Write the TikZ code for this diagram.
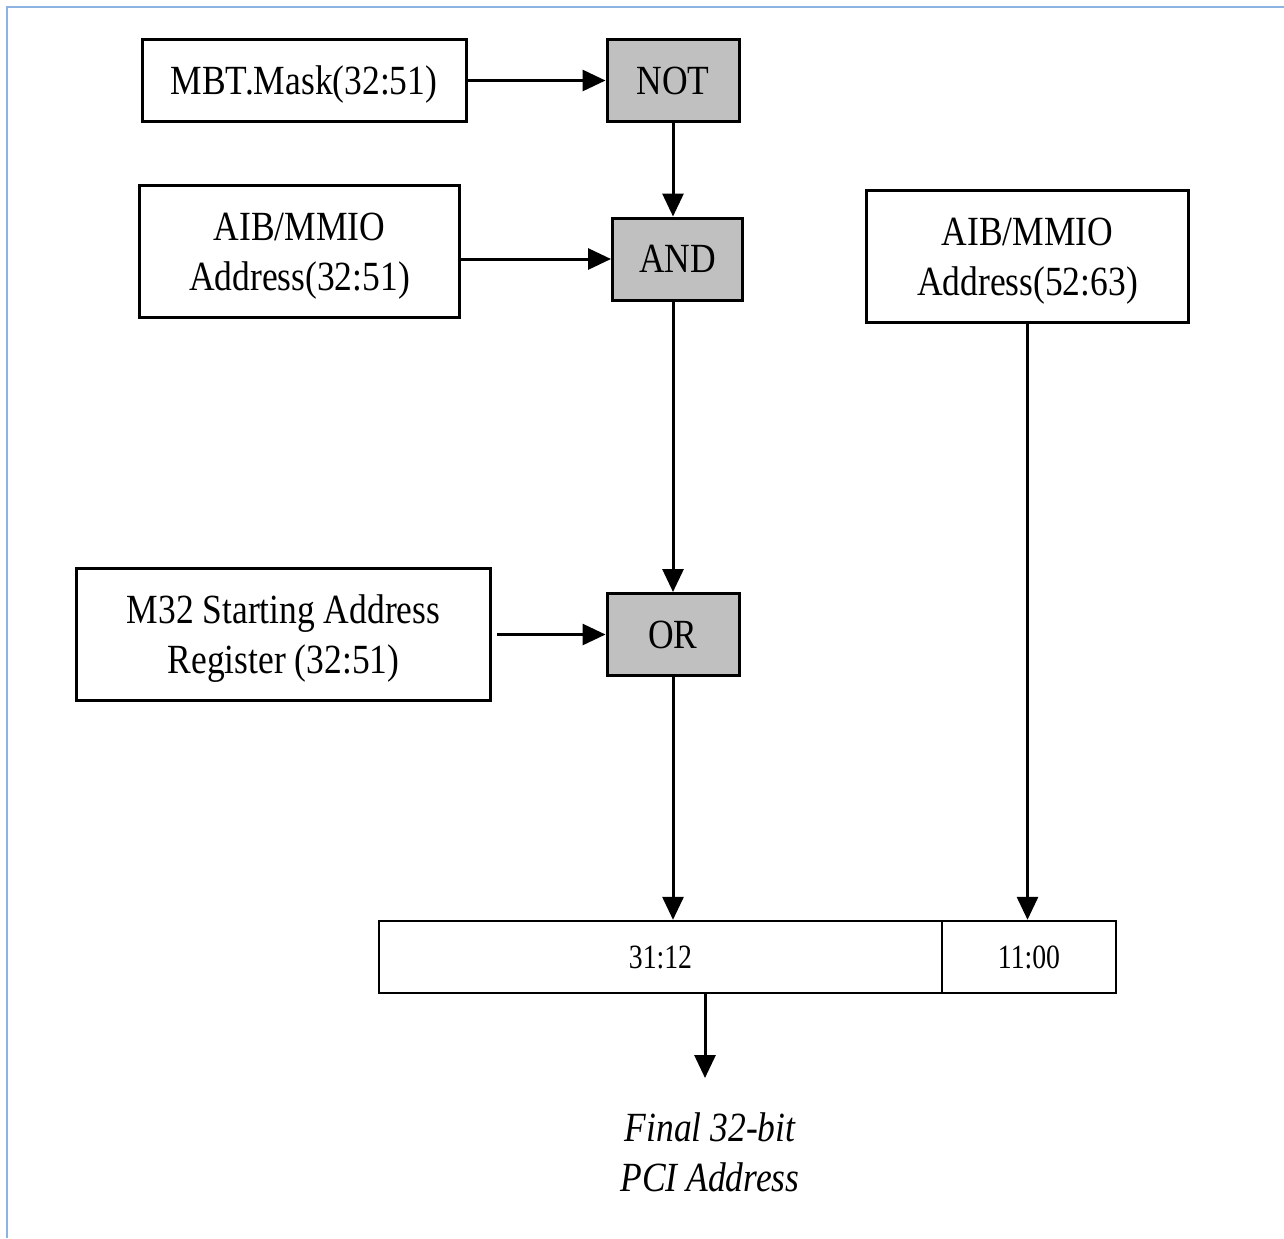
\documentclass[tikz,border=0pt]{standalone}
\usepackage{fontspec}
\setmainfont{Liberation Serif}[FakeStretch=0.855]
\newfontfamily\regfont{Liberation Serif}[FakeStretch=0.815]
\usetikzlibrary{arrows.meta}
\begin{document}
\begin{tikzpicture}[x=0.5pt,y=-0.5pt,
  box/.style={draw=black,line width=1.5pt,fill=white,align=center,inner sep=0pt,
    text depth=0pt,font=\fontsize{20.75}{25}\selectfont},
  gate/.style={box,fill=gatefill},
  regcell/.style={draw=black,line width=1.2pt,inner sep=0pt,minimum height=36pt,
    font=\regfont\fontsize{17}{20}\selectfont},
  flow/.style={line width=1.5pt,-{Triangle[length=11.5pt,width=10.5pt]}},
  frameline/.style={draw=framecol,line width=1pt}]
\definecolor{gatefill}{HTML}{C0C0C0}
\definecolor{framecol}{HTML}{8DB3E2}
\useasboundingbox (0,0) rectangle (1284,1238);
\draw[frameline] (7,1238) -- (7,7) -- (1284,7);

% input boxes
\node[box,minimum width=162pt,minimum height=41pt] (mask) at (304,80.5) {MBT.Mask(32:51)};
\node[box,minimum width=160pt,minimum height=66pt] (aiblo) at (299.5,251.5) {AIB/MMIO\\Address(32:51)};
\node[box,minimum width=161pt,minimum height=66pt] (aibhi) at (1027.5,256.5) {AIB/MMIO\\Address(52:63)};
\node[box,minimum width=207pt,minimum height=66pt] (m32) at (283.5,634) {M32 Starting Address\\Register (32:51)};

% logic gates
\node[gate,minimum width=66pt,minimum height=41pt] (not) at (673,80.5) {NOT};
\node[gate,minimum width=65pt,minimum height=41pt] (and) at (677.5,259) {AND};
\node[gate,minimum width=66pt,minimum height=41pt] (or) at (673,634.5) {OR};

% output register
\node[regcell,minimum width=281.5pt] (hi) at (660.5,957) {31:12};
\node[regcell,minimum width=87pt] (lo) at (1029,957) {11:00};

\coordinate (outtip) at (705,1078);
\node[font=\itshape\fontsize{20.75}{25}\selectfont,align=center] (final) at (710,1152) {Final 32-bit\\PCI Address};

% connectors
\draw[flow] (mask.east) -- (not.west);
\draw[flow] (aiblo.east |- and.west) -- (and.west);
\draw[flow] (not.south) -- (not.south |- and.north);
\draw[flow] (or.north |- and.south) -- (or.north);
\draw[flow,shorten <=2.5pt] (m32.east |- or.west) -- (or.west);
\draw[flow] (or.south) -- (or.south |- hi.north);
\draw[flow] (aibhi.south) -- (aibhi.south |- lo.north);
\draw[flow] (hi.south -| outtip) -- (outtip);
\end{tikzpicture}
\end{document}
